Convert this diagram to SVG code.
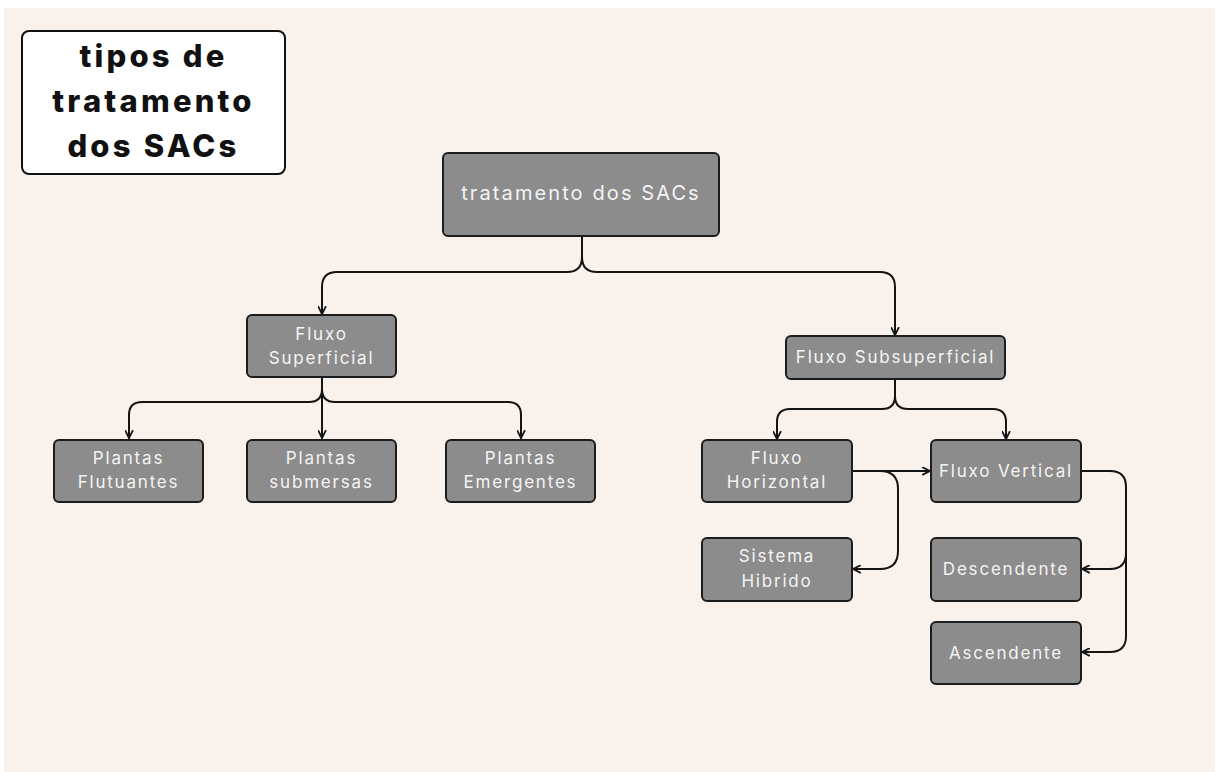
<svg xmlns="http://www.w3.org/2000/svg" width="1215" height="772" viewBox="0 0 1215 772">
  <defs>
    <style>
      .node rect { fill: #8c8c8c; stroke: #1c1c1c; stroke-width: 2; }
      .node text { font-family: Inter, "Open Sans", sans-serif; font-size: 17px; fill: #f4f4f4; text-anchor: middle; letter-spacing: 1.8px; }
      .node text.big { font-size: 20px; letter-spacing: 2.1px; }
      .title rect { fill: #ffffff; stroke: #111111; stroke-width: 2; }
      .title text { font-family: Inter, "Open Sans", sans-serif; font-size: 31px; font-weight: 800; fill: #111111; text-anchor: middle; letter-spacing: 3.2px; }
      .edges path { fill: none; stroke: #141414; stroke-width: 2; stroke-linecap: round; }
    </style>
    <marker id="arrow" viewBox="0 0 10 10" refX="9" refY="5" markerWidth="9" markerHeight="9" markerUnits="userSpaceOnUse" orient="auto">
      <path d="M1,1 L9,5 L1,9" fill="none" stroke="#141414" stroke-width="2" stroke-linejoin="round" stroke-linecap="round"/>
    </marker>
  </defs>

  <!-- page -->
  <rect x="0" y="0" width="1215" height="772" fill="#ffffff"/>
  <rect x="4" y="8" width="1211" height="764" fill="#f9f2ec"/>

  <!-- heading card -->
  <g id="title" class="title">
    <rect x="22" y="31" width="263" height="143" rx="7"/>
    <text x="153.5" y="67">tipos de</text>
    <text x="153.5" y="112">tratamento</text>
    <text x="153.5" y="157">dos SACs</text>
  </g>

  <!-- connectors -->
  <g id="connectors" class="edges">
    <path d="M582,236 V257 Q582,272 567,272 H337 Q322,272 322,287 V314" marker-end="url(#arrow)"/>
    <path d="M582,257 Q582,272 597,272 H880 Q895,272 895,287 V335" marker-end="url(#arrow)"/>

    <path d="M322,377 V438" marker-end="url(#arrow)"/>
    <path d="M322,389 Q322,402 309,402 H142 Q129,402 129,415 V438" marker-end="url(#arrow)"/>
    <path d="M322,389 Q322,402 335,402 H508 Q521,402 521,415 V438" marker-end="url(#arrow)"/>

    <path d="M895,379 V396 Q895,409 882,409 H790 Q777,409 777,422 V439" marker-end="url(#arrow)"/>
    <path d="M895,396 Q895,409 908,409 H993 Q1006,409 1006,422 V439" marker-end="url(#arrow)"/>

    <path d="M852,471 H930" marker-end="url(#arrow)"/>
    <path d="M860,471 H880 Q898,471 898,489 V551 Q898,569 880,569 H853" marker-end="url(#arrow)"/>

    <path d="M1081,471 H1110 Q1126,471 1126,487 V553 Q1126,569 1110,569 H1082" marker-end="url(#arrow)"/>
    <path d="M1126,553 V636 Q1126,652 1110,652 H1082" marker-end="url(#arrow)"/>
  </g>

  <!-- nodes -->
  <g id="n-root" class="node">
    <rect x="443" y="153" width="276" height="83" rx="5"/>
    <text class="big" x="581" y="200">tratamento dos SACs</text>
  </g>

  <g id="n-superficial" class="node">
    <rect x="247" y="315" width="149" height="62" rx="5"/>
    <text x="321.5" y="340">Fluxo</text>
    <text x="321.5" y="364">Superficial</text>
  </g>

  <g id="n-flutuantes" class="node">
    <rect x="54" y="440" width="149" height="62" rx="5"/>
    <text x="128.5" y="464">Plantas</text>
    <text x="128.5" y="488">Flutuantes</text>
  </g>

  <g id="n-submersas" class="node">
    <rect x="247" y="440" width="149" height="62" rx="5"/>
    <text x="321.5" y="464">Plantas</text>
    <text x="321.5" y="488">submersas</text>
  </g>

  <g id="n-emergentes" class="node">
    <rect x="446" y="440" width="149" height="62" rx="5"/>
    <text x="520.5" y="464">Plantas</text>
    <text x="520.5" y="488">Emergentes</text>
  </g>

  <g id="n-subsuperficial" class="node">
    <rect x="786" y="336" width="219" height="43" rx="5"/>
    <text x="895.5" y="363">Fluxo Subsuperficial</text>
  </g>

  <g id="n-horizontal" class="node">
    <rect x="702" y="440" width="150" height="62" rx="5"/>
    <text x="777" y="464">Fluxo</text>
    <text x="777" y="488">Horizontal</text>
  </g>

  <g id="n-vertical" class="node">
    <rect x="931" y="440" width="150" height="62" rx="5"/>
    <text x="1006" y="477">Fluxo Vertical</text>
  </g>

  <g id="n-hibrido" class="node">
    <rect x="702" y="538" width="150" height="63" rx="5"/>
    <text x="777" y="562">Sistema</text>
    <text x="777" y="587">Hibrido</text>
  </g>

  <g id="n-descendente" class="node">
    <rect x="931" y="538" width="150" height="63" rx="5"/>
    <text x="1006" y="575">Descendente</text>
  </g>

  <g id="n-ascendente" class="node">
    <rect x="931" y="622" width="150" height="62" rx="5"/>
    <text x="1006" y="659">Ascendente</text>
  </g>
</svg>
